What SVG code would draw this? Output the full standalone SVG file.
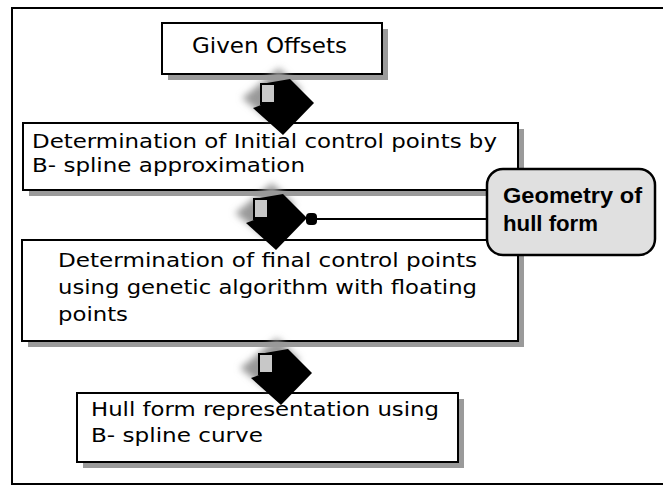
<svg xmlns="http://www.w3.org/2000/svg" width="663" height="486" viewBox="0 0 663 486">
<style>
.box{fill:#fff;stroke:#000;stroke-width:2}
.shadow{fill:#9a9a9a}
.t{font-family:"DejaVu Sans","Liberation Sans",sans-serif;font-size:19px;fill:#000}
.tb{font-family:"Liberation Sans",Arial,sans-serif;font-size:22px;font-weight:bold;fill:#000}
.line{stroke:#000;stroke-width:2;fill:none}
</style>
<defs>
<filter id="blur" x="-50%" y="-50%" width="200%" height="200%"><feGaussianBlur stdDeviation="3.5"/></filter>
<g id="blockArrow">
<polygon points="-34,-14 -5,-38 18,-16 -12,16 -42,-8" fill="#999" filter="url(#blur)"/>
<polygon points="-23,-22 6,-27 30,-3 -1,29 -31,2 -23,-1" fill="#000"/>
<rect x="-22" y="-21" width="12" height="17" fill="#c8c8c8"/>
<polyline points="-23,-1 -23,-22 -6,-22" fill="none" stroke="#000" stroke-width="2"/>
</g>
</defs>
<rect x="12" y="8" width="670" height="476" fill="#fff" stroke="#000" stroke-width="2"/>
<g id="node-given">
<rect class="shadow" x="168" y="29" width="220" height="51"/>
<rect class="box" x="162" y="23" width="220" height="51"/>
<text class="t" style="font-size:21px" x="192" y="53" textLength="155" lengthAdjust="spacingAndGlyphs">Given Offsets</text>
</g>
<g id="node-initial">
<rect class="shadow" x="29" y="129" width="495" height="67"/>
<rect class="box" x="23" y="123" width="495" height="67"/>
<text class="t" x="32" y="148" textLength="465" lengthAdjust="spacingAndGlyphs">Determination of Initial control points by</text>
<text class="t" x="32" y="172" textLength="273" lengthAdjust="spacingAndGlyphs">B- spline approximation</text>
</g>
<g id="node-final">
<rect class="shadow" x="28" y="246" width="496" height="101"/>
<rect class="box" x="22" y="240" width="496" height="101"/>
<text class="t" x="58" y="267" textLength="419" lengthAdjust="spacingAndGlyphs">Determination of final control points</text>
<text class="t" x="58" y="294" textLength="419" lengthAdjust="spacingAndGlyphs">using genetic algorithm with floating</text>
<text class="t" x="58" y="321" textLength="70" lengthAdjust="spacingAndGlyphs">points</text>
</g>
<g id="node-hull">
<rect class="shadow" x="83" y="399" width="381" height="69"/>
<rect class="box" x="77" y="393" width="381" height="69"/>
<text class="t" x="91" y="416" textLength="348" lengthAdjust="spacingAndGlyphs">Hull form representation using</text>
<text class="t" x="91" y="442" textLength="172" lengthAdjust="spacingAndGlyphs">B- spline curve</text>
</g>
<g id="connectors">
<use href="#blockArrow" x="284" y="106"/>
<use href="#blockArrow" x="277" y="221"/>
<use href="#blockArrow" x="282" y="376"/>
<line class="line" x1="314" y1="219" x2="488" y2="219"/>
<rect x="306" y="213" width="11" height="12" rx="4" fill="#000"/>
</g>
<g id="node-geometry">
<rect x="487" y="169" width="168" height="86" rx="16" fill="#e0e0e0" stroke="#000" stroke-width="2.5"/>
<text class="tb" x="503" y="203" textLength="139" lengthAdjust="spacingAndGlyphs">Geometry of</text>
<text class="tb" x="503" y="231" textLength="95" lengthAdjust="spacingAndGlyphs">hull form</text>
</g>
</svg>
